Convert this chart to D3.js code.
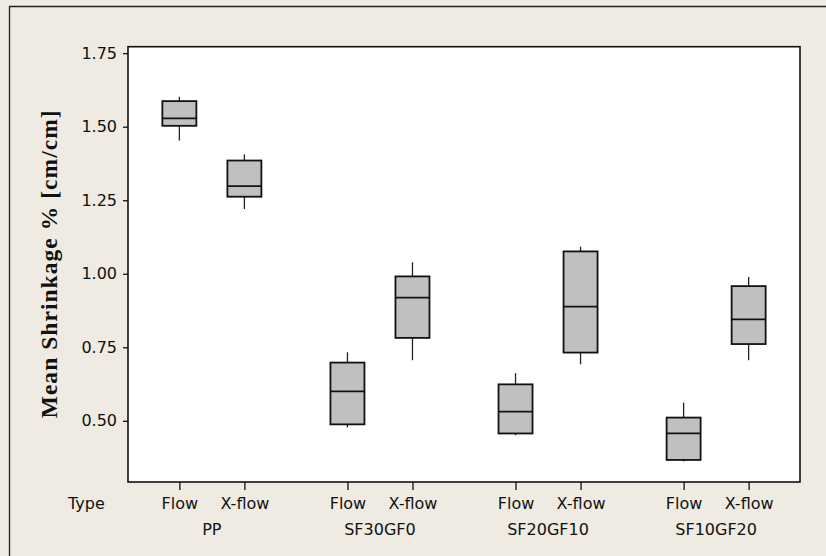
<!DOCTYPE html>
<html>
<head>
<script src="https://d3js.org/d3.v7.min.js"></script>
<style>
body { margin: 0; background: #efebe2; }
.tick text { font-family: "DejaVu Sans", Verdana, sans-serif; font-size: 16px; fill: #111; }
.lbl { font-family: "DejaVu Sans", Verdana, sans-serif; font-size: 16px; fill: #111; }
</style>
</head>
<body>
<svg id="chart" width="826" height="556"></svg>
<script>
// data
var groups = ["PP", "SF30GF0", "SF20GF10", "SF10GF20"];
var types = ["Flow", "X-flow"];
var yTicks = [0.50, 0.75, 1.00, 1.25, 1.50, 1.75];
// per box, order: group 0 Flow, group 0 X-flow, group 1 Flow, ...
var whiskerLow  = [1.453, 1.220, 0.478, 0.706, 0.451, 0.692, 0.362, 0.706];
var q1          = [1.503, 1.262, 0.488, 0.782, 0.457, 0.732, 0.367, 0.761];
var median      = [1.528, 1.298, 0.600, 0.919, 0.531, 0.888, 0.457, 0.845];
var q3          = [1.587, 1.385, 0.698, 0.991, 0.624, 1.076, 0.511, 0.958];
var whiskerHigh = [1.602, 1.406, 0.733, 1.039, 0.662, 1.092, 0.562, 0.989];

var svg = d3.select("#chart");
var W = 826, H = 556;
var plot = {left: 128, right: 800, top: 46.7, bottom: 482};
var groupStep = 2.585; // gap between groups, in box units

// background + outer frame (left & top edges only show)
svg.append("rect").attr("width", W).attr("height", H).attr("fill", "#efebe2");
svg.append("path")
  .attr("d", "M9.5," + H + "V6.5H" + W)
  .attr("fill", "none").attr("stroke", "#222").attr("stroke-width", 1.3);

var pos = function(i) { return Math.floor(i / 2) * groupStep + (i % 2); };
var x = d3.scaleLinear()
  .domain([-0.79, 3 * groupStep + 1 + 0.79])
  .range([plot.left, plot.right]);
var y = d3.scaleLinear()
  .domain([0.292, 1.772])
  .range([plot.bottom, plot.top]);

svg.append("rect")
  .attr("x", plot.left).attr("y", plot.top)
  .attr("width", plot.right - plot.left).attr("height", plot.bottom - plot.top)
  .attr("fill", "#fff").attr("stroke", "#111").attr("stroke-width", 1.6);

// y axis
var yAxis = svg.append("g")
  .attr("transform", "translate(" + plot.left + ",0)")
  .call(d3.axisLeft(y).tickValues(yTicks).tickFormat(d3.format(".2f")).tickSize(5).tickPadding(6));
yAxis.select(".domain").remove();
yAxis.selectAll(".tick line").attr("stroke", "#111").attr("stroke-width", 1.3);

// x axis: one tick per box
var boxIdx = d3.range(groups.length * types.length);
var xAxis = svg.append("g")
  .attr("transform", "translate(0," + plot.bottom + ")")
  .call(d3.axisBottom(x).tickValues(boxIdx.map(pos))
    .tickFormat(function(d, i) { return types[i % 2]; })
    .tickSize(8).tickPadding(7.6));
xAxis.select(".domain").remove();
xAxis.selectAll(".tick line").attr("stroke", "#111").attr("stroke-width", 1.3);

// group labels
svg.selectAll(".glbl").data(groups).enter().append("text")
  .attr("class", "lbl")
  .attr("x", function(d, g) { return x(g * groupStep + 0.5); })
  .attr("y", 535)
  .attr("text-anchor", "middle")
  .text(function(d) { return d; });

svg.append("text").attr("class", "lbl")
  .attr("x", 68).attr("y", 509).text("Type");

// y title
svg.append("text")
  .attr("transform", "translate(56.5," + ((plot.top + plot.bottom) / 2) + ") rotate(-90)")
  .attr("text-anchor", "middle")
  .attr("font-family", "'Liberation Serif', 'Times New Roman', serif")
  .attr("font-weight", "bold")
  .attr("font-size", "23.5px")
  .attr("textLength", 308)
  .attr("lengthAdjust", "spacing")
  .attr("fill", "#111")
  .text("Mean Shrinkage % [cm/cm]");

// boxes
var bw = 34;
var box = svg.selectAll(".box").data(boxIdx).enter().append("g").attr("class", "box");

box.append("line")
  .attr("x1", function(i) { return x(pos(i)); })
  .attr("x2", function(i) { return x(pos(i)); })
  .attr("y1", function(i) { return y(whiskerHigh[i]); })
  .attr("y2", function(i) { return y(q3[i]); })
  .attr("stroke", "#222").attr("stroke-width", 1.3);
box.append("line")
  .attr("x1", function(i) { return x(pos(i)); })
  .attr("x2", function(i) { return x(pos(i)); })
  .attr("y1", function(i) { return y(q1[i]); })
  .attr("y2", function(i) { return y(whiskerLow[i]); })
  .attr("stroke", "#222").attr("stroke-width", 1.3);
box.append("rect")
  .attr("x", function(i) { return x(pos(i)) - bw / 2; })
  .attr("y", function(i) { return y(q3[i]); })
  .attr("width", bw)
  .attr("height", function(i) { return y(q1[i]) - y(q3[i]); })
  .attr("fill", "#c0c0c0").attr("stroke", "#111").attr("stroke-width", 1.8);
box.append("line")
  .attr("x1", function(i) { return x(pos(i)) - bw / 2; })
  .attr("x2", function(i) { return x(pos(i)) + bw / 2; })
  .attr("y1", function(i) { return y(median[i]); })
  .attr("y2", function(i) { return y(median[i]); })
  .attr("stroke", "#111").attr("stroke-width", 1.8);
</script>
</body>
</html>
